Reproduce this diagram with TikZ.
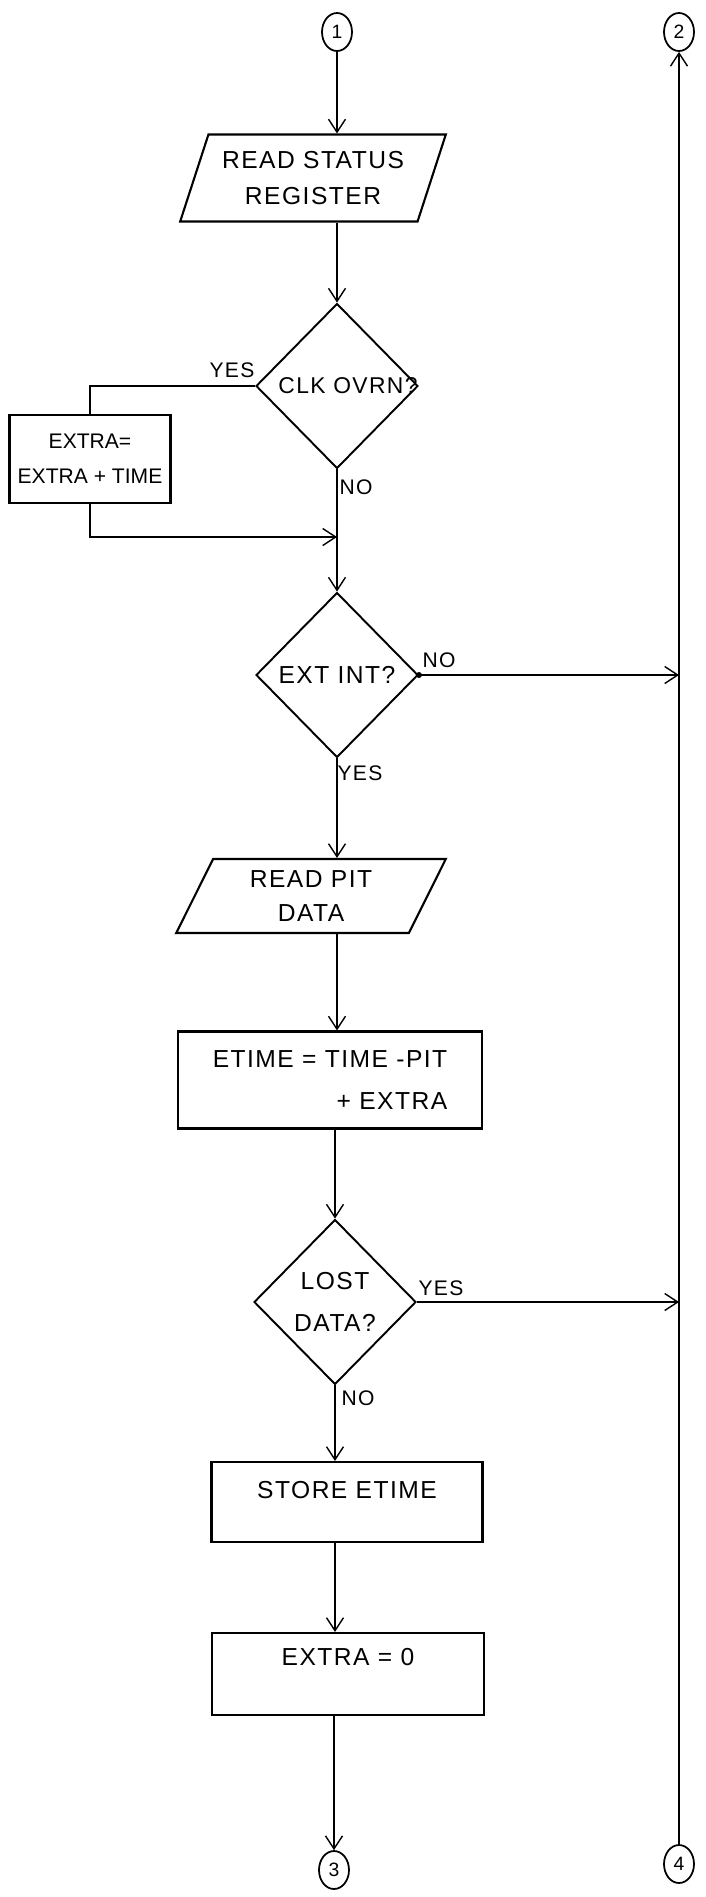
\documentclass[tikz,border=0pt]{standalone}
\usepackage{fontspec}
\setmainfont{Liberation Sans}[LetterSpace=6]
\usetikzlibrary{positioning, arrows.meta, shapes.geometric}

\begin{document}
\begin{tikzpicture}[
    x=0.02cm, y=-0.02cm,
    font=\fontsize{14}{16}\selectfont,
    box/.style={draw, line width=1.2pt, align=center, inner sep=1mm},
    iobox/.style={box, trapezium, trapezium left angle=67.5,
                  trapezium right angle=112.5, trapezium stretches=true},
    decision/.style={draw, line width=1.1pt, diamond, inner sep=0pt,
                     minimum width=3.24cm, minimum height=3.3cm},
    connector/.style={draw, line width=1pt, ellipse, inner sep=0pt,
                      minimum width=0.6cm, minimum height=0.76cm,
                      font=\fontsize{11}{12}\selectfont},
    tag/.style={font=\fontsize{12}{14}\selectfont, inner sep=1pt},
    arr/.style={-{Straight Barb[length=2.6mm, width=3.4mm]}, line width=0.8pt},
  ]
    \useasboundingbox (0,0) rectangle (706,1897);

    \node[connector] (c1) at (337,32) {1};
    \node[connector] (c2) at (679,32) {2};

    \node[iobox, minimum width=5.32cm, minimum height=1.74cm] (rdstat) at (313,178)
      {READ STATUS\\[4pt]REGISTER};

    \node[decision, label={[xshift=0.22cm, font=\fontsize{13}{16}\selectfont]center:{CLK OVRN?}}]
      (clk) at (337,386) {};
    \node[box, minimum width=3.22cm, minimum height=1.76cm, inner sep=0.5mm,
          font=\fontsize{12}{14}\selectfont\addfontfeatures{LetterSpace=0}]
      (addx) at (90,459) {EXTRA=\\[6pt]EXTRA + TIME};
    \coordinate (join) at (337,537);

    \node[decision, label=center:{EXT INT?}] (ext) at (337,675) {};

    \node[iobox, minimum width=5.4cm, minimum height=1.48cm] (rdpit) at (311,896)
      {READ PIT\\[3pt]DATA};
    \node[box, align=right, minimum width=6.08cm, minimum height=1.94cm] (etime) at (330,1080)
      {ETIME = TIME -PIT\\[8pt]+ EXTRA};

    \node[decision, label={[align=center]center:{LOST\\[8pt]DATA?}}] (lost) at (335,1302) {};

    \node[box, minimum width=5.42cm, minimum height=1.6cm, text depth=0.48cm] (store) at (347,1502)
      {STORE ETIME};
    \node[box, minimum width=5.44cm, minimum height=1.64cm, text depth=0.68cm] (zero) at (348,1674)
      {EXTRA = 0};

    \node[connector] (c3) at (334,1870) {3};
    \node[connector] (c4) at (679,1864) {4};

    % branch labels
    \node[tag] (clkyes)  at (232,370)  {YES};
    \node[tag] (clkno)   at (356,487)  {NO};
    \node[tag] (extno)   at (439,660)  {NO};
    \node[tag] (extyes)  at (360,773)  {YES};
    \node[tag] (lostyes) at (441,1288) {YES};
    \node[tag] (lostno)  at (358,1398) {NO};

    \draw[arr] (c1) -- (c1 |- rdstat.north);
    \draw[arr] (clk.north |- rdstat.south) -- (clk.north);
    \draw[line width=0.8pt] (clk.west) -| (addx.north);
    \draw[arr] (addx.south) |- (join);
    \draw[arr] (clk.south) -- (ext.north);
    \draw[arr] (ext.east) -- (ext.east -| c2);
    \fill (ext.east) circle[radius=0.06cm];
    \draw[arr] (ext.south) -- (ext.south |- rdpit.north);
    \draw[arr] (ext.south |- rdpit.south) -- (ext.south |- etime.north);
    \draw[arr] (lost.north |- etime.south) -- (lost.north);
    \draw[arr] (lost.east) -- (lost.east -| c2);
    \draw[arr] (lost.south) -- (lost.south |- store.north);
    \draw[arr] (lost.south |- store.south) -- (lost.south |- zero.north);
    \draw[arr] (c3 |- zero.south) -- (c3);
    \draw[arr] (c4) -- (c2);
  \end{tikzpicture}
\end{document}
